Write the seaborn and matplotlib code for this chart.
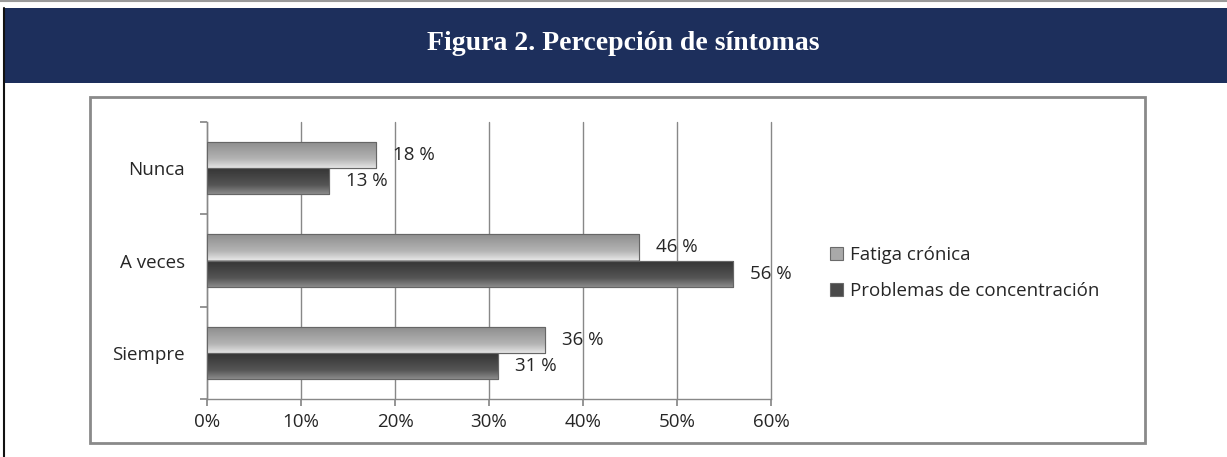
import matplotlib
matplotlib.use("Agg")
import matplotlib.pyplot as plt
import seaborn as sns
import pandas as pd
import numpy as np
from matplotlib.patches import Rectangle
from matplotlib.lines import Line2D
from matplotlib.colors import LinearSegmentedColormap

categories = ["Nunca", "A veces", "Siempre"]
series_names = ["Fatiga crónica", "Problemas de concentración"]
fatiga = [18, 46, 36]
problemas = [13, 56, 31]
xticks = [0, 10, 20, 30, 40, 50, 60]
xtick_labels = ["0%", "10%", "20%", "30%", "40%", "50%", "60%"]
title = "Figura 2. Percepción de síntomas"

df = pd.DataFrame({
    "cat": categories * 2,
    "serie": [series_names[0]] * 3 + [series_names[1]] * 3,
    "val": fatiga + problemas,
})

sns.set_theme(style="white")
plt.rcParams["font.family"] = ["Open Sans", "DejaVu Sans"]

W, H = 1227, 457
fig = plt.figure(figsize=(W / 100, H / 100), dpi=100)
fig.patch.set_facecolor("white")

def fx(x): return x / W
def fy(y): return 1 - y / H

FS = 13.5
TXT = "#262626"

# header band
fig.patches.append(Rectangle((fx(4), fy(83)), 1 - fx(4), fy(8) - fy(83),
                             transform=fig.transFigure, facecolor="#1d2f5c",
                             edgecolor="none", zorder=0))
fig.lines.append(Line2D([fx(0), 1], [fy(0.5), fy(0.5)], transform=fig.transFigure,
                        color="#9a9a9a", lw=1.5))
fig.lines.append(Line2D([fx(4), fx(4)], [0, fy(8)], transform=fig.transFigure,
                        color="#111111", lw=1.5))
fig.text(fx(623), fy(44), title, ha="center", va="center", color="white",
         fontsize=20, fontweight="bold", family="Liberation Serif")
# chart box
fig.patches.append(Rectangle((fx(90), fy(443)), fx(1145) - fx(90), fy(97) - fy(443),
                             transform=fig.transFigure, facecolor="none",
                             edgecolor="#8a8a8a", lw=2, zorder=1))

ax = fig.add_axes([fx(207), fy(399), fx(771) - fx(207), fy(122) - fy(399)])
palette = {series_names[0]: "#a9a9a9", series_names[1]: "#4a4a4a"}
sns.barplot(data=df, y="cat", x="val", hue="serie", orient="h", ax=ax,
            palette=palette, width=0.57, edgecolor="#6a6a6a", linewidth=0.8,
            saturation=1, zorder=3)

# gradient fill clipped to each seaborn bar
cmaps = [
    LinearSegmentedColormap.from_list("lg", ["#e4e4e4", "#b4b4b4", "#a0a0a0", "#8c8c8c"]),
    LinearSegmentedColormap.from_list("dg", ["#8a8a8a", "#555555", "#444444", "#333333"]),
]
grad = np.linspace(0, 1, 64).reshape(-1, 1)
for container, cm in zip(ax.containers, cmaps):
    for bar in container:
        x0, y0 = bar.get_x(), bar.get_y()
        w, h = bar.get_width(), bar.get_height()
        im = ax.imshow(grad, cmap=cm, aspect="auto", extent=(x0, x0 + w, y0, y0 + h),
                       origin="upper", zorder=3.5, interpolation="bilinear")
        im.set_clip_path(bar)
        ax.add_patch(Rectangle((x0, y0), w, h, facecolor="none",
                               edgecolor="#666666", lw=0.8, zorder=4))

for container, vals in zip(ax.containers, [fatiga, problemas]):
    ax.bar_label(container, labels=[f"{v} %" for v in vals], padding=12,
                 fontsize=FS, color=TXT, zorder=5)

ax.set_xlim(0, 60)
ax.set_ylim(2.5, -0.5)
ax.set_xticks(xticks)
ax.set_xticklabels(xtick_labels, fontsize=FS, color=TXT)
ax.set_yticks([-0.5, 0.5, 1.5, 2.5], minor=False)
ax.set_yticklabels([])
ax.set_yticks([0, 1, 2], minor=True)
ax.set_yticklabels(categories, minor=True, fontsize=FS, color=TXT)
ax.tick_params(axis="y", which="minor", length=0, pad=16)
ax.tick_params(axis="y", which="major", length=5, color="#888888", direction="out", left=True)
ax.tick_params(axis="x", length=5, color="#888888", direction="out", bottom=True, pad=5)
ax.set_xlabel("")
ax.set_ylabel("")
ax.grid(axis="x", color="#888888", lw=1, zorder=0)
for gl in ax.get_xgridlines():
    gl.set_clip_on(False)
ax.set_axisbelow(True)
for s in ["top", "right"]:
    ax.spines[s].set_visible(False)
for s in ["left", "bottom"]:
    ax.spines[s].set_color("#888888")
    ax.spines[s].set_linewidth(1)

handles, labels = ax.get_legend_handles_labels()
ax.legend_.remove()
fig.legend(handles, labels, loc="center left", bbox_to_anchor=(fx(813), fy(273)),
           frameon=False, fontsize=FS, handlelength=0.7, handleheight=0.7,
           labelspacing=1.0, handletextpad=0.4, labelcolor=TXT)

fig.savefig("out.png", dpi=100)
